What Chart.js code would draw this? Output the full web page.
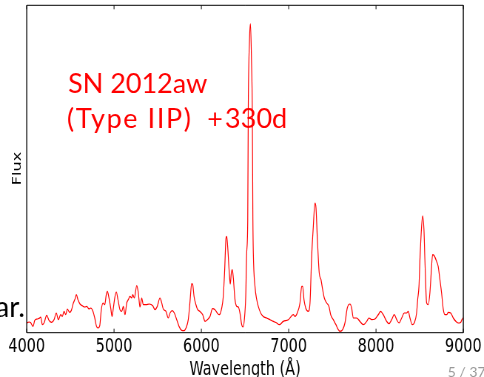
<!DOCTYPE html>
<html>
<head>
<meta charset="utf-8">
<script src="https://cdn.jsdelivr.net/npm/chart.js@4/dist/chart.umd.min.js"></script>
<style>
  html, body { margin:0; padding:0; background:#fff; overflow:hidden; }
  /* the figure in the slide is squeezed horizontally, so draw wide and squeeze */
  #wrap { width:654px; height:377px; transform:scaleX(0.74); transform-origin:0 0; }
</style>
</head>
<body>
<div id="wrap"><canvas id="spec" width="654" height="377"></canvas></div>
<script>
const SQUEEZE = 0.74;

/* SN 2012aw nebular spectrum, +330d (flux in arbitrary units) */
const wavelength = [
  4000,4026,4046,4072,4092,4121,4149,4160,4179,4198,
  4229,4255,4286,4313,4339,4362,4389,4408,4427,4447,
  4465,4492,4511,4534,4553,4568,4587,4610,4637,4664,
  4687,4713,4733,4759,4779,4797,4816,4836,4854,4874,
  4893,4911,4923,4942,4962,4977,4992,5011,5026,5045,
  5068,5088,5106,5126,5145,5163,5183,5202,5214,5232,
  5260,5278,5297,5317,5335,5366,5404,5443,5469,5495,
  5526,5546,5564,5595,5621,5641,5667,5690,5718,5744,
  5775,5801,5824,5850,5870,5889,5901,5916,5938,5958,
  5984,6015,6042,6068,6099,6127,6156,6182,6205,6233,
  6251,6267,6282,6290,6301,6320,6331,6343,6354,6366,
  6385,6405,6423,6442,6462,6477,6492,6508,6519,6531,
  6537,6551,6562,6574,6583,6590,6595,6614,6634,6652,
  6679,6709,6748,6786,6824,6863,6892,6938,6996,7053,
  7073,7098,7129,7149,7160,7175,7195,7224,7244,7263,
  7282,7301,7313,7327,7350,7370,7389,7408,7435,7461,
  7481,7511,7541,7568,7587,7618,7644,7671,7702,7721,
  7740,7778,7816,7854,7893,7919,7950,7988,8026,8053,
  8083,8122,8148,8179,8209,8237,8263,8294,8323,8351,
  8369,8389,8415,8438,8465,8477,8492,8503,8522,8534,
  8549,8560,8580,8598,8617,8632,8648,8666,8694,8712,
  8732,8751,8771,8790,8809,8828,8855,8885,8916,8942,
  8969,8984,9000
];
const flux = [
  9.7,10.7,10,6.3,12.3,13.7,14.7,15.7,8,9.7,
  17.3,12.3,10.3,13,19.7,13,18,16.3,21.3,18,
  23.7,20.3,22.3,29.7,33.7,38,33,28.7,27,25.7,
  26.3,23.7,24.7,21.3,14.7,7,4.7,7,23,29.7,
  28,38,41.3,34.7,24.7,16.3,24.7,36.3,40.7,33,
  23,21.3,26.3,18,29.7,33,36.3,34.7,38,34.7,
  47,39.7,25.7,34.7,28,28,28.7,27,23,26.3,
  34.7,29.7,23.7,21.3,14.7,19.7,22,19.7,13,6.3,
  2.3,2,4.7,13,31.3,49,48,36.3,28,23,
  21.3,18,11.3,13,16.3,24,23,19.7,18,24.7,
  36.3,63,94.7,96.3,86.3,59.7,48.7,59.7,63,54.7,
  33,26.3,25.7,19.7,8,5.7,13,36.3,79.7,113,
  223,293,309,273,223,113,79.7,46.3,33,26.3,
  19.7,16.3,14.7,13,11.3,9.7,8,11.3,13,18,
  16.3,19.7,29.7,46.3,46.3,33,24.7,21.3,29.7,76.3,
  106.3,129.7,124.7,96.3,59.7,53,43,34.7,29.7,26.3,
  18,13,8,3,1.3,3,9.7,24.7,28.7,24.7,
  14.7,14.7,11.3,8,11.3,14.7,13,13.7,18,21.3,
  18,11.3,9,13,18,13,9.7,14.7,19.7,19.7,
  21.3,14.7,8,9.7,19.7,33,46.3,73,106.3,117,
  103,73,29.7,28,39.7,59.7,78,77,71.3,66.3,
  53,39.7,23,18,18,20.3,19.7,14.7,11.3,9.7,
  10.3,13,15
];
const xTicks = [4000, 5000, 6000, 7000, 8000, 9000];

/* frame, inward ticks, y label and slide text */
const framePlugin = {
  id: 'frame',
  afterDraw(chart) {
    const { ctx, chartArea: a, scales: { x } } = chart;
    ctx.save();
    ctx.strokeStyle = '#000';
    ctx.lineWidth = 1;
    ctx.beginPath();
    ctx.moveTo(a.left, a.top); ctx.lineTo(a.right, a.top);
    ctx.moveTo(a.left, a.bottom); ctx.lineTo(a.right, a.bottom);
    xTicks.forEach(v => {
      const px = x.getPixelForValue(v);
      ctx.moveTo(px, a.bottom); ctx.lineTo(px, a.bottom - 4);
      ctx.moveTo(px, a.top); ctx.lineTo(px, a.top + 4);
    });
    ctx.stroke();
    ctx.lineWidth = 1 / SQUEEZE;
    ctx.beginPath();
    ctx.moveTo(a.left, a.top); ctx.lineTo(a.left, a.bottom);
    ctx.moveTo(a.right, a.top); ctx.lineTo(a.right, a.bottom);
    ctx.stroke();

    // y axis label
    ctx.fillStyle = '#000';
    ctx.font = '16px "DejaVu Sans"';
    ctx.textAlign = 'center';
    ctx.textBaseline = 'alphabetic';
    ctx.save();
    ctx.translate(28, 168.5);
    ctx.rotate(-Math.PI / 2);
    ctx.fillText('Flux', 0, 0);
    ctx.restore();

    // slide text is not squeezed
    ctx.scale(1 / SQUEEZE, 1);
    ctx.textAlign = 'left';
    ctx.fillStyle = '#ff0000';
    ctx.font = '27px Lato';
    ctx.fillText('SN 2012aw', 68, 93.3);
    ctx.letterSpacing = '1.6px';
    ctx.fillText('(Type IIP)', 67, 127.8);
    ctx.letterSpacing = '0px';
    ctx.textAlign = 'center';
    ctx.fillText('+', 215, 127.8);
    ctx.textAlign = 'left';
    ctx.fillText('330d', 225, 127.8);
    ctx.fillStyle = '#000';
    ctx.textAlign = 'right';
    ctx.font = '28px Lato';
    ctx.fillText('ar.', 25, 316.7);
    ctx.fillStyle = '#999';
    ctx.textAlign = 'left';
    ctx.font = '14px Lato';
    ctx.fillText('5 / 37', 447.7, 376.7);
    ctx.restore();
  }
};

new Chart(document.getElementById('spec'), {
  type: 'line',
  data: {
    datasets: [{
      data: wavelength.map((w, i) => ({ x: w, y: flux[i] })),
      borderColor: '#ff0000', borderWidth: 1.2, pointRadius: 0, fill: false,
      cubicInterpolationMode: 'monotone'
    }]
  },
  options: {
    responsive: false, animation: false, devicePixelRatio: 1,
    layout: { padding: { left: 36.1, top: 5.3, right: 27.9, bottom: 0 } },
    plugins: { legend: { display: false }, tooltip: { enabled: false } },
    scales: {
      x: {
        type: 'linear', min: 4000, max: 9000,
        afterBuildTicks: s => { s.ticks = xTicks.map(v => ({ value: v })); },
        afterFit: s => { s.height = 44.3; },
        grid: { display: false, drawTicks: false },
        border: { display: false },
        ticks: { color: '#000', font: { family: 'DejaVu Sans', size: 19.5 }, padding: 3,
                 maxRotation: 0, autoSkip: false, callback: v => String(v) },
        title: { display: true, text: 'Wavelength (Å)', color: '#000',
                 font: { family: 'DejaVu Sans', size: 19.5 }, padding: { top: 0, bottom: -5 } }
      },
      y: { display: false, min: 0, max: 327.5 }
    }
  },
  plugins: [framePlugin]
});
</script>
</body>
</html>
